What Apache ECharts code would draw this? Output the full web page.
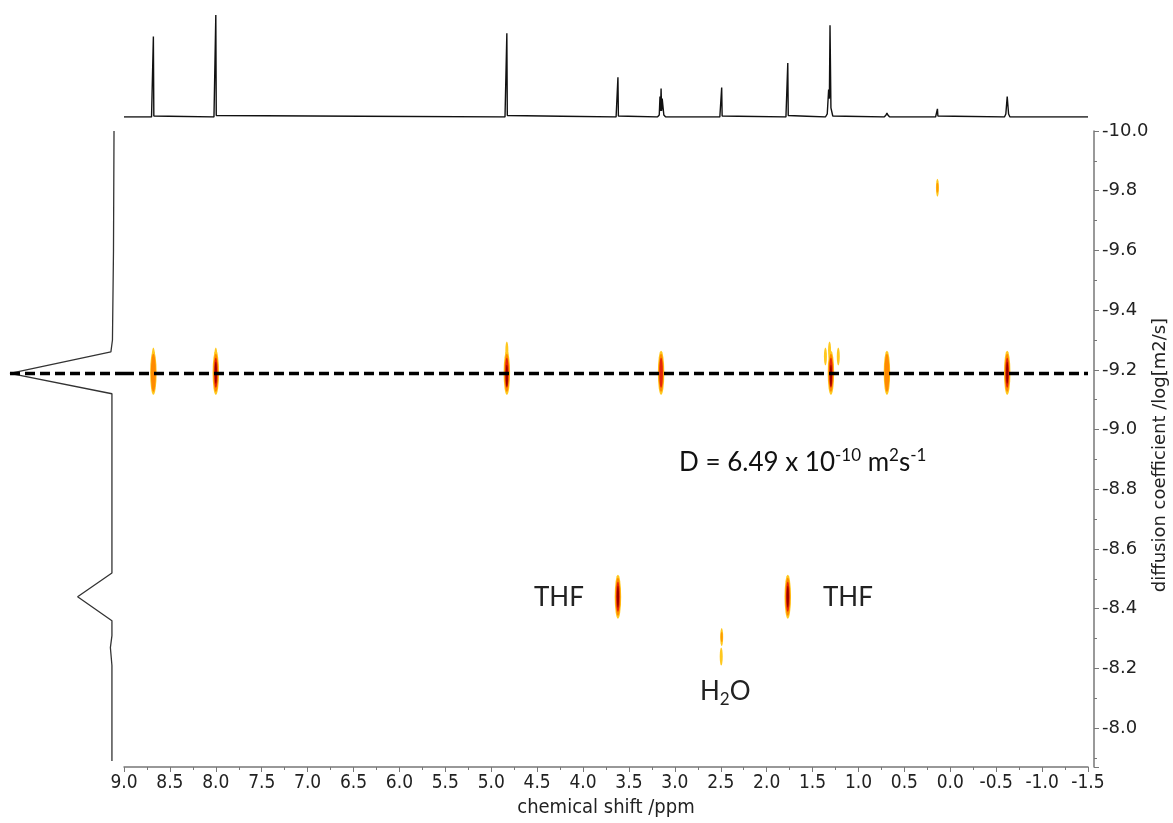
<!DOCTYPE html>
<html>
<head>
<meta charset="utf-8">
<script src="https://cdn.jsdelivr.net/npm/echarts@6/dist/echarts.min.js"></script>
<style>html,body{margin:0;padding:0;background:#fff}#c{width:1173px;height:823px}</style>
</head>
<body>
<div id="c"></div>
<script>
// ---------- DATA ----------
// 1D proton spectrum (top projection): [chemical shift ppm, relative intensity]
const topSpectrum = [
  [9.0,0],[8.70,0],[8.685,1],[8.68,79],[8.675,1],[8.66,0],
  [8.02,0],[8.005,1.5],[8.0,100],[7.995,1.5],[7.98,0],
  [4.85,0],[4.835,1.5],[4.83,82],[4.825,1.5],[4.81,0],
  [3.64,0],[3.625,1],[3.62,39],[3.615,1],[3.60,0],
  [3.19,0],[3.17,2],[3.162,20],[3.156,6],[3.15,28],[3.144,6],[3.138,18],[3.12,2],[3.10,0],
  [2.51,0],[2.495,1],[2.49,29],[2.485,1],[2.47,0],
  [1.79,0],[1.775,1.5],[1.77,53],[1.765,1.5],[1.75,0],
  [1.36,0],[1.34,3],[1.325,27],[1.317,18],[1.31,90],[1.30,9],[1.28,1],[1.26,0],
  [0.72,0],[0.70,2],[0.69,4],[0.68,2],[0.66,0],
  [0.16,0],[0.145,1],[0.14,8],[0.135,1],[0.12,0],
  [-0.59,0],[-0.605,3],[-0.62,20],[-0.635,3],[-0.65,0],
  [-1.5,0]
];
// diffusion projection (left): [relative intensity, log D]
const diffProjection = [
  [0,-10.0],[0.5,-9.6],[1.5,-9.30],[3,-9.26],[100,-9.188],[2,-9.12],
  [2,-8.60],[2,-8.52],[35,-8.44],[2,-8.36],[2,-8.31],[3.5,-8.27],[2,-8.21],[2,-8.0],[2,-7.89]
];
// cross peaks [ppm, log D] grouped by contour level reached
const contourYellow = [[8.68,-9.19],[8.00,-9.19],[4.83,-9.19],[3.15,-9.19],[1.30,-9.19],[0.69,-9.19],[-0.62,-9.19],[3.62,-8.44],[1.77,-8.44]];
const contourOrange = [[8.68,-9.19],[8.00,-9.19],[4.83,-9.19],[3.15,-9.19],[1.30,-9.19],[0.69,-9.19],[-0.62,-9.19],[3.62,-8.44],[1.77,-8.44]];
const contourRed    = [[8.00,-9.19],[4.83,-9.19],[3.15,-9.19],[1.30,-9.19],[-0.62,-9.19],[3.62,-8.44],[1.77,-8.44]];
const contourDark   = [[8.00,-9.19],[4.83,-9.18],[1.30,-9.18],[-0.62,-9.19],[3.62,-8.44],[1.77,-8.44]];
const minorYellow   = [[8.68,-9.245],[8.00,-9.245],[4.83,-9.265],[1.315,-9.265],[1.36,-9.245],[1.22,-9.245],[0.14,-9.81],[2.49,-8.305],[2.495,-8.24]];
const minorOrange   = [[0.14,-9.81],[2.49,-8.305]];
// diffusion coefficient of the main species
const logD = -9.188;
const dashedMain = [[9.0,logD],[-1.5,logD]];
const dashedProj = [[100,logD],[-9.6,logD]];
// axis tick values
const xTicks = {min:-1.5, max:9.0, step:0.5};
const yTicks = {min:-10.0, max:-7.87, step:0.2};

// ---------- CHART ----------
const chart = echarts.init(document.getElementById('c'), null, {renderer:'canvas'});
const labFont = "'DejaVu Sans Condensed','Liberation Sans Narrow','Roboto Condensed',sans-serif";
const yFont = "'DejaVu Sans',Verdana,sans-serif";
const annFont = "Lato,'Open Sans',sans-serif";
function blob(data, size, color, z){
  return {type:'scatter', xAxisIndex:1, yAxisIndex:1, data:data, symbol:'circle',
    symbolSize:size, itemStyle:{color:color, opacity:1}, z:z, silent:true};
}
chart.setOption({
  animation:false,
  backgroundColor:'#fff',
  grid:[
    {left:124, right:85, top:15, bottom:706, containLabel:false, outerBoundsMode:'none'},
    {left:124, right:85, top:131, bottom:56, containLabel:false, outerBoundsMode:'none'},
    {left:10, right:1049, top:131, bottom:56, containLabel:false, outerBoundsMode:'none'}
  ],
  xAxis:[
    {gridIndex:0, type:'value', min:xTicks.min, max:xTicks.max, inverse:true, show:false},
    {gridIndex:1, type:'value', min:xTicks.min, max:xTicks.max, interval:xTicks.step, inverse:true,
      axisLine:{show:true, onZero:false, lineStyle:{color:'#777', width:1.5}},
      axisTick:{show:true, length:5, lineStyle:{color:'#777'}},
      minorTick:{show:true, splitNumber:2, length:3, lineStyle:{color:'#777'}},
      splitLine:{show:false},
      axisLabel:{margin:7, fontSize:19, color:'#222', fontFamily:labFont, formatter:v=>v.toFixed(1)},
      name:'chemical shift /ppm', nameLocation:'middle', nameGap:31,
      nameTextStyle:{fontSize:20, color:'#222', fontFamily:labFont}},
    {gridIndex:2, type:'value', min:-9.6, max:100, inverse:true, show:false}
  ],
  yAxis:[
    {gridIndex:0, type:'value', min:0, max:100, show:false},
    {gridIndex:1, type:'value', position:'right', offset:6, min:yTicks.min, max:yTicks.max, interval:yTicks.step, inverse:true,
      axisLine:{show:true, onZero:false, lineStyle:{color:'#777', width:1.5}},
      axisTick:{show:true, length:5, lineStyle:{color:'#777'}},
      minorTick:{show:true, splitNumber:2, length:3, lineStyle:{color:'#777'}},
      splitLine:{show:false},
      axisLabel:{margin:8, fontSize:18, color:'#222', fontFamily:yFont, showMaxLabel:false, formatter:v=>v.toFixed(1)}},
    {gridIndex:2, type:'value', min:yTicks.min, max:yTicks.max, inverse:true, show:false}
  ],
  series:[
    {type:'line', xAxisIndex:0, yAxisIndex:0, data:topSpectrum, showSymbol:false, symbol:'none',
      lineStyle:{color:'#111', width:1.4}, silent:true},
    {type:'line', xAxisIndex:2, yAxisIndex:2, data:diffProjection, showSymbol:false, symbol:'none',
      lineStyle:{color:'#333', width:1.3}, silent:true},
    blob(contourYellow, [6.5,44], '#ffc81e', 2),
    blob(contourOrange, [5,38], '#ff8a00', 3),
    blob(contourRed, [3.6,30], '#e4260a', 4),
    blob(contourDark, [2.2,22], '#980000', 5),
    blob(minorYellow, [3,18], '#ffc81e', 2),
    blob(minorOrange, [2,10], '#ff9a00', 3),
    {type:'line', xAxisIndex:1, yAxisIndex:1, data:dashedMain, showSymbol:false, symbol:'none',
      lineStyle:{color:'#000', width:3.4, type:[10,5]}, z:10, silent:true},
    {type:'line', xAxisIndex:2, yAxisIndex:2, data:dashedProj, showSymbol:false, symbol:'none',
      lineStyle:{color:'#000', width:3.4, type:[10,5]}, z:10, silent:true}
  ],
  graphic:[
    {type:'text', x:1160, y:455, rotation:Math.PI/2,
      style:{text:'diffusion coefficient /log[m2/s]', fontSize:18, fontFamily:yFont, fill:'#222', align:'center', verticalAlign:'middle'}},
    {type:'text', left:534, top:585, style:{text:'THF', fontSize:26, fontFamily:annFont, fill:'#222'}},
    {type:'text', left:823, top:585, style:{text:'THF', fontSize:26, fontFamily:annFont, fill:'#222'}},
    {type:'text', left:700, top:679, style:{text:'{n|H}{b|2}{n|O}', fontFamily:annFont, fill:'#222',
      rich:{n:{fontSize:26, fontFamily:annFont, fill:'#222', lineHeight:33, verticalAlign:'middle'},
            b:{fontSize:17, fontFamily:annFont, fill:'#222', lineHeight:33, verticalAlign:'bottom'}}}},
    {type:'text', left:679, top:447, style:{text:'{n|D = 6.49 x 10}{s|-10}{n| m}{s|2}{n|s}{s|-1}', fontFamily:annFont, fill:'#111',
      rich:{n:{fontSize:26, fontFamily:annFont, fill:'#111', lineHeight:32, verticalAlign:'middle'},
            s:{fontSize:17, fontFamily:annFont, fill:'#111', lineHeight:32, verticalAlign:'top'}}}}
  ]
});
</script>
</body>
</html>
